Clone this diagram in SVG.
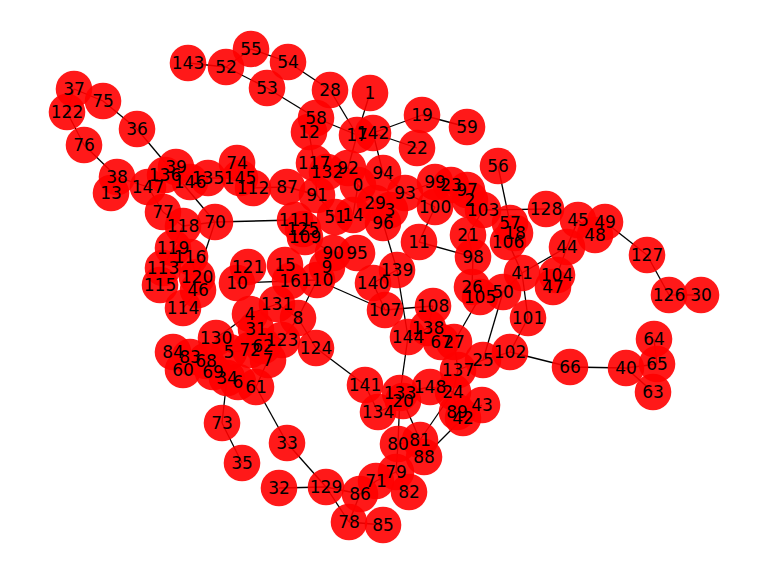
<svg xmlns="http://www.w3.org/2000/svg" width="768" height="576" viewBox="0 0 768 576">
<style>
.bg{fill:#ffffff}
.e{stroke:#000;stroke-width:1.3;fill:none}
.node circle{fill:#ff0000;fill-opacity:0.9}
.lbl text{font-family:"DejaVu Sans",sans-serif;font-size:17px;fill:#000;text-anchor:middle}
</style>
<rect class="bg" x="0" y="0" width="768" height="576"/>
<g id="edges" class="e">
<line x1="74" y1="89" x2="103" y2="101"/>
<line x1="74" y1="89" x2="67" y2="112"/>
<line x1="67" y1="112" x2="84" y2="145"/>
<line x1="103" y1="101" x2="137" y2="129"/>
<line x1="84" y1="145" x2="117" y2="177"/>
<line x1="137" y1="129" x2="215" y2="222"/>
<line x1="188" y1="63" x2="226" y2="67"/>
<line x1="226" y1="67" x2="267" y2="88"/>
<line x1="226" y1="67" x2="251" y2="49"/>
<line x1="251" y1="49" x2="288" y2="62"/>
<line x1="288" y1="62" x2="330" y2="90"/>
<line x1="267" y1="88" x2="316" y2="118"/>
<line x1="330" y1="90" x2="357" y2="135"/>
<line x1="316" y1="118" x2="357" y2="135"/>
<line x1="370" y1="93" x2="357" y2="135"/>
<line x1="357" y1="135" x2="373" y2="133"/>
<line x1="373" y1="133" x2="422" y2="115"/>
<line x1="373" y1="133" x2="417" y2="148"/>
<line x1="422" y1="115" x2="467" y2="127"/>
<line x1="357" y1="135" x2="348" y2="168"/>
<line x1="373" y1="133" x2="383" y2="173"/>
<line x1="498" y1="166" x2="510" y2="223"/>
<line x1="483" y1="210" x2="546" y2="209"/>
<line x1="605" y1="222" x2="647" y2="255"/>
<line x1="647" y1="255" x2="669" y2="295"/>
<line x1="669" y1="295" x2="701" y2="295"/>
<line x1="522" y1="273" x2="567" y2="247"/>
<line x1="522" y1="273" x2="528" y2="318"/>
<line x1="528" y1="318" x2="510" y2="352"/>
<line x1="510" y1="352" x2="570" y2="367"/>
<line x1="570" y1="367" x2="626" y2="368"/>
<line x1="626" y1="368" x2="657" y2="364"/>
<line x1="626" y1="368" x2="653" y2="392"/>
<line x1="654" y1="339" x2="657" y2="364"/>
<line x1="503" y1="292" x2="483" y2="360"/>
<line x1="480" y1="297" x2="454" y2="342"/>
<line x1="419" y1="242" x2="473" y2="257"/>
<line x1="435" y1="207" x2="419" y2="242"/>
<line x1="383" y1="223" x2="397" y2="270"/>
<line x1="397" y1="270" x2="408" y2="337"/>
<line x1="317" y1="280" x2="385" y2="310"/>
<line x1="433" y1="306" x2="385" y2="310"/>
<line x1="215" y1="222" x2="295" y2="220"/>
<line x1="215" y1="222" x2="197" y2="277"/>
<line x1="298" y1="318" x2="317" y2="280"/>
<line x1="298" y1="318" x2="316" y2="348"/>
<line x1="316" y1="348" x2="365" y2="385"/>
<line x1="400" y1="393" x2="408" y2="337"/>
<line x1="403" y1="401" x2="420" y2="440"/>
<line x1="400" y1="393" x2="398" y2="444"/>
<line x1="453" y1="392" x2="420" y2="440"/>
<line x1="463" y1="418" x2="424" y2="457"/>
<line x1="256" y1="387" x2="287" y2="443"/>
<line x1="287" y1="443" x2="326" y2="487"/>
<line x1="279" y1="488" x2="326" y2="487"/>
<line x1="326" y1="487" x2="349" y2="522"/>
<line x1="326" y1="487" x2="360" y2="494"/>
<line x1="222" y1="423" x2="242" y2="463"/>
<line x1="227" y1="378" x2="222" y2="423"/>
<line x1="216" y1="338" x2="250" y2="314"/>
<line x1="237" y1="283" x2="290" y2="281"/>
<line x1="148" y1="187" x2="117" y2="177"/>
<line x1="117" y1="177" x2="111" y2="193"/>
<line x1="148" y1="187" x2="165" y2="175"/>
<line x1="165" y1="175" x2="176" y2="167"/>
<line x1="165" y1="175" x2="190" y2="182"/>
<line x1="190" y1="182" x2="208" y2="178"/>
<line x1="208" y1="178" x2="240" y2="178"/>
<line x1="240" y1="178" x2="237" y2="163"/>
<line x1="240" y1="178" x2="253" y2="188"/>
<line x1="253" y1="188" x2="287" y2="187"/>
<line x1="287" y1="187" x2="317" y2="195"/>
<line x1="317" y1="195" x2="314" y2="163"/>
<line x1="314" y1="163" x2="309" y2="132"/>
<line x1="309" y1="132" x2="316" y2="118"/>
<line x1="314" y1="163" x2="327" y2="172"/>
<line x1="327" y1="172" x2="348" y2="168"/>
<line x1="348" y1="168" x2="358" y2="185"/>
<line x1="358" y1="185" x2="353" y2="215"/>
<line x1="353" y1="215" x2="335" y2="217"/>
<line x1="317" y1="195" x2="335" y2="217"/>
<line x1="295" y1="220" x2="303" y2="229"/>
<line x1="303" y1="229" x2="305" y2="237"/>
<line x1="305" y1="237" x2="333" y2="253"/>
<line x1="333" y1="253" x2="327" y2="267"/>
<line x1="333" y1="253" x2="357" y2="253"/>
<line x1="327" y1="267" x2="317" y2="280"/>
<line x1="290" y1="281" x2="317" y2="280"/>
<line x1="285" y1="265" x2="290" y2="281"/>
<line x1="248" y1="267" x2="237" y2="283"/>
<line x1="277" y1="304" x2="250" y2="314"/>
<line x1="250" y1="314" x2="256" y2="329"/>
<line x1="256" y1="329" x2="282" y2="340"/>
<line x1="282" y1="340" x2="298" y2="318"/>
<line x1="277" y1="304" x2="298" y2="318"/>
<line x1="256" y1="329" x2="250" y2="350"/>
<line x1="250" y1="350" x2="229" y2="352"/>
<line x1="229" y1="352" x2="216" y2="338"/>
<line x1="250" y1="350" x2="263" y2="346"/>
<line x1="263" y1="346" x2="268" y2="360"/>
<line x1="268" y1="360" x2="256" y2="387"/>
<line x1="256" y1="387" x2="238" y2="382"/>
<line x1="238" y1="382" x2="227" y2="378"/>
<line x1="227" y1="378" x2="213" y2="372"/>
<line x1="213" y1="372" x2="206" y2="361"/>
<line x1="206" y1="361" x2="190" y2="357"/>
<line x1="190" y1="357" x2="173" y2="352"/>
<line x1="190" y1="357" x2="183" y2="370"/>
<line x1="163" y1="212" x2="148" y2="187"/>
<line x1="163" y1="212" x2="183" y2="226"/>
<line x1="183" y1="226" x2="173" y2="248"/>
<line x1="183" y1="226" x2="215" y2="222"/>
<line x1="173" y1="248" x2="163" y2="268"/>
<line x1="163" y1="268" x2="160" y2="285"/>
<line x1="173" y1="248" x2="190" y2="257"/>
<line x1="190" y1="257" x2="197" y2="277"/>
<line x1="197" y1="277" x2="198" y2="290"/>
<line x1="198" y1="290" x2="183" y2="308"/>
<line x1="358" y1="185" x2="375" y2="203"/>
<line x1="375" y1="203" x2="390" y2="210"/>
<line x1="390" y1="210" x2="383" y2="223"/>
<line x1="383" y1="173" x2="405" y2="193"/>
<line x1="405" y1="193" x2="435" y2="182"/>
<line x1="405" y1="193" x2="435" y2="207"/>
<line x1="435" y1="182" x2="451" y2="185"/>
<line x1="451" y1="185" x2="467" y2="190"/>
<line x1="467" y1="190" x2="470" y2="200"/>
<line x1="470" y1="200" x2="483" y2="210"/>
<line x1="483" y1="210" x2="468" y2="235"/>
<line x1="468" y1="235" x2="473" y2="257"/>
<line x1="473" y1="257" x2="472" y2="287"/>
<line x1="472" y1="287" x2="480" y2="297"/>
<line x1="480" y1="297" x2="503" y2="292"/>
<line x1="503" y1="292" x2="522" y2="273"/>
<line x1="510" y1="223" x2="515" y2="233"/>
<line x1="515" y1="233" x2="508" y2="242"/>
<line x1="508" y1="242" x2="522" y2="273"/>
<line x1="567" y1="247" x2="578" y2="220"/>
<line x1="578" y1="220" x2="595" y2="235"/>
<line x1="595" y1="235" x2="605" y2="222"/>
<line x1="567" y1="247" x2="557" y2="275"/>
<line x1="557" y1="275" x2="553" y2="287"/>
<line x1="373" y1="283" x2="397" y2="270"/>
<line x1="373" y1="283" x2="385" y2="310"/>
<line x1="408" y1="337" x2="428" y2="328"/>
<line x1="428" y1="328" x2="433" y2="306"/>
<line x1="428" y1="328" x2="441" y2="342"/>
<line x1="441" y1="342" x2="454" y2="342"/>
<line x1="454" y1="342" x2="458" y2="370"/>
<line x1="458" y1="370" x2="483" y2="360"/>
<line x1="483" y1="360" x2="510" y2="352"/>
<line x1="458" y1="370" x2="453" y2="392"/>
<line x1="453" y1="392" x2="430" y2="387"/>
<line x1="430" y1="387" x2="400" y2="393"/>
<line x1="400" y1="393" x2="403" y2="401"/>
<line x1="403" y1="401" x2="378" y2="412"/>
<line x1="378" y1="412" x2="365" y2="385"/>
<line x1="453" y1="392" x2="457" y2="412"/>
<line x1="457" y1="412" x2="463" y2="418"/>
<line x1="463" y1="418" x2="482" y2="405"/>
<line x1="398" y1="444" x2="420" y2="440"/>
<line x1="420" y1="440" x2="424" y2="457"/>
<line x1="398" y1="444" x2="396" y2="472"/>
<line x1="396" y1="472" x2="376" y2="481"/>
<line x1="376" y1="481" x2="360" y2="494"/>
<line x1="396" y1="472" x2="409" y2="492"/>
<line x1="360" y1="494" x2="349" y2="522"/>
<line x1="349" y1="522" x2="383" y2="525"/>
</g>
<g id="nodes">
<g id="node-0" class="node"><circle cx="358" cy="185" r="18.3"/></g>
<g id="node-1" class="node"><circle cx="370" cy="93" r="18.3"/></g>
<g id="node-2" class="node"><circle cx="470" cy="200" r="18.3"/></g>
<g id="node-3" class="node"><circle cx="390" cy="210" r="18.3"/></g>
<g id="node-4" class="node"><circle cx="250" cy="314" r="18.3"/></g>
<g id="node-5" class="node"><circle cx="229" cy="352" r="18.3"/></g>
<g id="node-6" class="node"><circle cx="238" cy="382" r="18.3"/></g>
<g id="node-7" class="node"><circle cx="268" cy="360" r="18.3"/></g>
<g id="node-8" class="node"><circle cx="298" cy="318" r="18.3"/></g>
<g id="node-9" class="node"><circle cx="327" cy="267" r="18.3"/></g>
<g id="node-10" class="node"><circle cx="237" cy="283" r="18.3"/></g>
<g id="node-11" class="node"><circle cx="419" cy="242" r="18.3"/></g>
<g id="node-12" class="node"><circle cx="309" cy="132" r="18.3"/></g>
<g id="node-13" class="node"><circle cx="111" cy="193" r="18.3"/></g>
<g id="node-14" class="node"><circle cx="353" cy="215" r="18.3"/></g>
<g id="node-15" class="node"><circle cx="285" cy="265" r="18.3"/></g>
<g id="node-16" class="node"><circle cx="290" cy="281" r="18.3"/></g>
<g id="node-17" class="node"><circle cx="357" cy="135" r="18.3"/></g>
<g id="node-18" class="node"><circle cx="515" cy="233" r="18.3"/></g>
<g id="node-19" class="node"><circle cx="422" cy="115" r="18.3"/></g>
<g id="node-20" class="node"><circle cx="403" cy="401" r="18.3"/></g>
<g id="node-21" class="node"><circle cx="468" cy="235" r="18.3"/></g>
<g id="node-22" class="node"><circle cx="417" cy="148" r="18.3"/></g>
<g id="node-23" class="node"><circle cx="451" cy="185" r="18.3"/></g>
<g id="node-24" class="node"><circle cx="453" cy="392" r="18.3"/></g>
<g id="node-25" class="node"><circle cx="483" cy="360" r="18.3"/></g>
<g id="node-26" class="node"><circle cx="472" cy="287" r="18.3"/></g>
<g id="node-27" class="node"><circle cx="454" cy="342" r="18.3"/></g>
<g id="node-28" class="node"><circle cx="330" cy="90" r="18.3"/></g>
<g id="node-29" class="node"><circle cx="375" cy="203" r="18.3"/></g>
<g id="node-30" class="node"><circle cx="701" cy="295" r="18.3"/></g>
<g id="node-31" class="node"><circle cx="256" cy="329" r="18.3"/></g>
<g id="node-32" class="node"><circle cx="279" cy="488" r="18.3"/></g>
<g id="node-33" class="node"><circle cx="287" cy="443" r="18.3"/></g>
<g id="node-34" class="node"><circle cx="227" cy="378" r="18.3"/></g>
<g id="node-35" class="node"><circle cx="242" cy="463" r="18.3"/></g>
<g id="node-36" class="node"><circle cx="137" cy="129" r="18.3"/></g>
<g id="node-37" class="node"><circle cx="74" cy="89" r="18.3"/></g>
<g id="node-38" class="node"><circle cx="117" cy="177" r="18.3"/></g>
<g id="node-39" class="node"><circle cx="176" cy="167" r="18.3"/></g>
<g id="node-40" class="node"><circle cx="626" cy="368" r="18.3"/></g>
<g id="node-41" class="node"><circle cx="522" cy="273" r="18.3"/></g>
<g id="node-42" class="node"><circle cx="463" cy="418" r="18.3"/></g>
<g id="node-43" class="node"><circle cx="482" cy="405" r="18.3"/></g>
<g id="node-44" class="node"><circle cx="567" cy="247" r="18.3"/></g>
<g id="node-45" class="node"><circle cx="578" cy="220" r="18.3"/></g>
<g id="node-46" class="node"><circle cx="198" cy="290" r="18.3"/></g>
<g id="node-47" class="node"><circle cx="553" cy="287" r="18.3"/></g>
<g id="node-48" class="node"><circle cx="595" cy="235" r="18.3"/></g>
<g id="node-49" class="node"><circle cx="605" cy="222" r="18.3"/></g>
<g id="node-50" class="node"><circle cx="503" cy="292" r="18.3"/></g>
<g id="node-51" class="node"><circle cx="335" cy="217" r="18.3"/></g>
<g id="node-52" class="node"><circle cx="226" cy="67" r="18.3"/></g>
<g id="node-53" class="node"><circle cx="267" cy="88" r="18.3"/></g>
<g id="node-54" class="node"><circle cx="288" cy="62" r="18.3"/></g>
<g id="node-55" class="node"><circle cx="251" cy="49" r="18.3"/></g>
<g id="node-56" class="node"><circle cx="498" cy="166" r="18.3"/></g>
<g id="node-57" class="node"><circle cx="510" cy="223" r="18.3"/></g>
<g id="node-58" class="node"><circle cx="316" cy="118" r="18.3"/></g>
<g id="node-59" class="node"><circle cx="467" cy="127" r="18.3"/></g>
<g id="node-60" class="node"><circle cx="183" cy="370" r="18.3"/></g>
<g id="node-61" class="node"><circle cx="256" cy="387" r="18.3"/></g>
<g id="node-62" class="node"><circle cx="263" cy="346" r="18.3"/></g>
<g id="node-63" class="node"><circle cx="653" cy="392" r="18.3"/></g>
<g id="node-64" class="node"><circle cx="654" cy="339" r="18.3"/></g>
<g id="node-65" class="node"><circle cx="657" cy="364" r="18.3"/></g>
<g id="node-66" class="node"><circle cx="570" cy="367" r="18.3"/></g>
<g id="node-67" class="node"><circle cx="441" cy="342" r="18.3"/></g>
<g id="node-68" class="node"><circle cx="206" cy="361" r="18.3"/></g>
<g id="node-69" class="node"><circle cx="213" cy="372" r="18.3"/></g>
<g id="node-70" class="node"><circle cx="215" cy="222" r="18.3"/></g>
<g id="node-71" class="node"><circle cx="376" cy="481" r="18.3"/></g>
<g id="node-72" class="node"><circle cx="250" cy="350" r="18.3"/></g>
<g id="node-73" class="node"><circle cx="222" cy="423" r="18.3"/></g>
<g id="node-74" class="node"><circle cx="237" cy="163" r="18.3"/></g>
<g id="node-75" class="node"><circle cx="103" cy="101" r="18.3"/></g>
<g id="node-76" class="node"><circle cx="84" cy="145" r="18.3"/></g>
<g id="node-77" class="node"><circle cx="163" cy="212" r="18.3"/></g>
<g id="node-78" class="node"><circle cx="349" cy="522" r="18.3"/></g>
<g id="node-79" class="node"><circle cx="396" cy="472" r="18.3"/></g>
<g id="node-80" class="node"><circle cx="398" cy="444" r="18.3"/></g>
<g id="node-81" class="node"><circle cx="420" cy="440" r="18.3"/></g>
<g id="node-82" class="node"><circle cx="409" cy="492" r="18.3"/></g>
<g id="node-83" class="node"><circle cx="190" cy="357" r="18.3"/></g>
<g id="node-84" class="node"><circle cx="173" cy="352" r="18.3"/></g>
<g id="node-85" class="node"><circle cx="383" cy="525" r="18.3"/></g>
<g id="node-86" class="node"><circle cx="360" cy="494" r="18.3"/></g>
<g id="node-87" class="node"><circle cx="287" cy="187" r="18.3"/></g>
<g id="node-88" class="node"><circle cx="424" cy="457" r="18.3"/></g>
<g id="node-89" class="node"><circle cx="457" cy="412" r="18.3"/></g>
<g id="node-90" class="node"><circle cx="333" cy="253" r="18.3"/></g>
<g id="node-91" class="node"><circle cx="317" cy="195" r="18.3"/></g>
<g id="node-92" class="node"><circle cx="348" cy="168" r="18.3"/></g>
<g id="node-93" class="node"><circle cx="405" cy="193" r="18.3"/></g>
<g id="node-94" class="node"><circle cx="383" cy="173" r="18.3"/></g>
<g id="node-95" class="node"><circle cx="357" cy="253" r="18.3"/></g>
<g id="node-96" class="node"><circle cx="383" cy="223" r="18.3"/></g>
<g id="node-97" class="node"><circle cx="467" cy="190" r="18.3"/></g>
<g id="node-98" class="node"><circle cx="473" cy="257" r="18.3"/></g>
<g id="node-99" class="node"><circle cx="435" cy="182" r="18.3"/></g>
<g id="node-100" class="node"><circle cx="435" cy="207" r="18.3"/></g>
<g id="node-101" class="node"><circle cx="528" cy="318" r="18.3"/></g>
<g id="node-102" class="node"><circle cx="510" cy="352" r="18.3"/></g>
<g id="node-103" class="node"><circle cx="483" cy="210" r="18.3"/></g>
<g id="node-104" class="node"><circle cx="557" cy="275" r="18.3"/></g>
<g id="node-105" class="node"><circle cx="480" cy="297" r="18.3"/></g>
<g id="node-106" class="node"><circle cx="508" cy="242" r="18.3"/></g>
<g id="node-107" class="node"><circle cx="385" cy="310" r="18.3"/></g>
<g id="node-108" class="node"><circle cx="433" cy="306" r="18.3"/></g>
<g id="node-109" class="node"><circle cx="305" cy="237" r="18.3"/></g>
<g id="node-110" class="node"><circle cx="317" cy="280" r="18.3"/></g>
<g id="node-111" class="node"><circle cx="295" cy="220" r="18.3"/></g>
<g id="node-112" class="node"><circle cx="253" cy="188" r="18.3"/></g>
<g id="node-113" class="node"><circle cx="163" cy="268" r="18.3"/></g>
<g id="node-114" class="node"><circle cx="183" cy="308" r="18.3"/></g>
<g id="node-115" class="node"><circle cx="160" cy="285" r="18.3"/></g>
<g id="node-116" class="node"><circle cx="190" cy="257" r="18.3"/></g>
<g id="node-117" class="node"><circle cx="314" cy="163" r="18.3"/></g>
<g id="node-118" class="node"><circle cx="183" cy="226" r="18.3"/></g>
<g id="node-119" class="node"><circle cx="173" cy="248" r="18.3"/></g>
<g id="node-120" class="node"><circle cx="197" cy="277" r="18.3"/></g>
<g id="node-121" class="node"><circle cx="248" cy="267" r="18.3"/></g>
<g id="node-122" class="node"><circle cx="67" cy="112" r="18.3"/></g>
<g id="node-123" class="node"><circle cx="282" cy="340" r="18.3"/></g>
<g id="node-124" class="node"><circle cx="316" cy="348" r="18.3"/></g>
<g id="node-125" class="node"><circle cx="303" cy="229" r="18.3"/></g>
<g id="node-126" class="node"><circle cx="669" cy="295" r="18.3"/></g>
<g id="node-127" class="node"><circle cx="647" cy="255" r="18.3"/></g>
<g id="node-128" class="node"><circle cx="546" cy="209" r="18.3"/></g>
<g id="node-129" class="node"><circle cx="326" cy="487" r="18.3"/></g>
<g id="node-130" class="node"><circle cx="216" cy="338" r="18.3"/></g>
<g id="node-131" class="node"><circle cx="277" cy="304" r="18.3"/></g>
<g id="node-132" class="node"><circle cx="327" cy="172" r="18.3"/></g>
<g id="node-133" class="node"><circle cx="400" cy="393" r="18.3"/></g>
<g id="node-134" class="node"><circle cx="378" cy="412" r="18.3"/></g>
<g id="node-135" class="node"><circle cx="208" cy="178" r="18.3"/></g>
<g id="node-136" class="node"><circle cx="165" cy="175" r="18.3"/></g>
<g id="node-137" class="node"><circle cx="458" cy="370" r="18.3"/></g>
<g id="node-138" class="node"><circle cx="428" cy="328" r="18.3"/></g>
<g id="node-139" class="node"><circle cx="397" cy="270" r="18.3"/></g>
<g id="node-140" class="node"><circle cx="373" cy="283" r="18.3"/></g>
<g id="node-141" class="node"><circle cx="365" cy="385" r="18.3"/></g>
<g id="node-142" class="node"><circle cx="373" cy="133" r="18.3"/></g>
<g id="node-143" class="node"><circle cx="188" cy="63" r="18.3"/></g>
<g id="node-144" class="node"><circle cx="408" cy="337" r="18.3"/></g>
<g id="node-145" class="node"><circle cx="240" cy="178" r="18.3"/></g>
<g id="node-146" class="node"><circle cx="190" cy="182" r="18.3"/></g>
<g id="node-147" class="node"><circle cx="148" cy="187" r="18.3"/></g>
<g id="node-148" class="node"><circle cx="430" cy="387" r="18.3"/></g>
</g>
<g id="labels" class="lbl">
<text x="358" y="191">0</text><text x="370" y="99">1</text><text x="470" y="206">2</text><text x="390" y="216">3</text>
<text x="250" y="320">4</text><text x="229" y="358">5</text><text x="238" y="388">6</text><text x="268" y="366">7</text>
<text x="298" y="324">8</text><text x="327" y="273">9</text><text x="237" y="289">10</text><text x="419" y="248">11</text>
<text x="309" y="138">12</text><text x="111" y="199">13</text><text x="353" y="221">14</text><text x="285" y="271">15</text>
<text x="290" y="287">16</text><text x="357" y="141">17</text><text x="515" y="239">18</text><text x="422" y="121">19</text>
<text x="403" y="407">20</text><text x="468" y="241">21</text><text x="417" y="154">22</text><text x="451" y="191">23</text>
<text x="453" y="398">24</text><text x="483" y="366">25</text><text x="472" y="293">26</text><text x="454" y="348">27</text>
<text x="330" y="96">28</text><text x="375" y="209">29</text><text x="701" y="301">30</text><text x="256" y="335">31</text>
<text x="279" y="494">32</text><text x="287" y="449">33</text><text x="227" y="384">34</text><text x="242" y="469">35</text>
<text x="137" y="135">36</text><text x="74" y="95">37</text><text x="117" y="183">38</text><text x="176" y="173">39</text>
<text x="626" y="374">40</text><text x="522" y="279">41</text><text x="463" y="424">42</text><text x="482" y="411">43</text>
<text x="567" y="253">44</text><text x="578" y="226">45</text><text x="198" y="296">46</text><text x="553" y="293">47</text>
<text x="595" y="241">48</text><text x="605" y="228">49</text><text x="503" y="298">50</text><text x="335" y="223">51</text>
<text x="226" y="73">52</text><text x="267" y="94">53</text><text x="288" y="68">54</text><text x="251" y="55">55</text>
<text x="498" y="172">56</text><text x="510" y="229">57</text><text x="316" y="124">58</text><text x="467" y="133">59</text>
<text x="183" y="376">60</text><text x="256" y="393">61</text><text x="263" y="352">62</text><text x="653" y="398">63</text>
<text x="654" y="345">64</text><text x="657" y="370">65</text><text x="570" y="373">66</text><text x="441" y="348">67</text>
<text x="206" y="367">68</text><text x="213" y="378">69</text><text x="215" y="228">70</text><text x="376" y="487">71</text>
<text x="250" y="356">72</text><text x="222" y="429">73</text><text x="237" y="169">74</text><text x="103" y="107">75</text>
<text x="84" y="151">76</text><text x="163" y="218">77</text><text x="349" y="528">78</text><text x="396" y="478">79</text>
<text x="398" y="450">80</text><text x="420" y="446">81</text><text x="409" y="498">82</text><text x="190" y="363">83</text>
<text x="173" y="358">84</text><text x="383" y="531">85</text><text x="360" y="500">86</text><text x="287" y="193">87</text>
<text x="424" y="463">88</text><text x="457" y="418">89</text><text x="333" y="259">90</text><text x="317" y="201">91</text>
<text x="348" y="174">92</text><text x="405" y="199">93</text><text x="383" y="179">94</text><text x="357" y="259">95</text>
<text x="383" y="229">96</text><text x="467" y="196">97</text><text x="473" y="263">98</text><text x="435" y="188">99</text>
<text x="435" y="213">100</text><text x="528" y="324">101</text><text x="510" y="358">102</text><text x="483" y="216">103</text>
<text x="557" y="281">104</text><text x="480" y="303">105</text><text x="508" y="248">106</text><text x="385" y="316">107</text>
<text x="433" y="312">108</text><text x="305" y="243">109</text><text x="317" y="286">110</text><text x="295" y="226">111</text>
<text x="253" y="194">112</text><text x="163" y="274">113</text><text x="183" y="314">114</text><text x="160" y="291">115</text>
<text x="190" y="263">116</text><text x="314" y="169">117</text><text x="183" y="232">118</text><text x="173" y="254">119</text>
<text x="197" y="283">120</text><text x="248" y="273">121</text><text x="67" y="118">122</text><text x="282" y="346">123</text>
<text x="316" y="354">124</text><text x="303" y="235">125</text><text x="669" y="301">126</text><text x="647" y="261">127</text>
<text x="546" y="215">128</text><text x="326" y="493">129</text><text x="216" y="344">130</text><text x="277" y="310">131</text>
<text x="327" y="178">132</text><text x="400" y="399">133</text><text x="378" y="418">134</text><text x="208" y="184">135</text>
<text x="165" y="181">136</text><text x="458" y="376">137</text><text x="428" y="334">138</text><text x="397" y="276">139</text>
<text x="373" y="289">140</text><text x="365" y="391">141</text><text x="373" y="139">142</text><text x="188" y="69">143</text>
<text x="408" y="343">144</text><text x="240" y="184">145</text><text x="190" y="188">146</text><text x="148" y="193">147</text>
<text x="430" y="393">148</text>
</g>
</svg>
